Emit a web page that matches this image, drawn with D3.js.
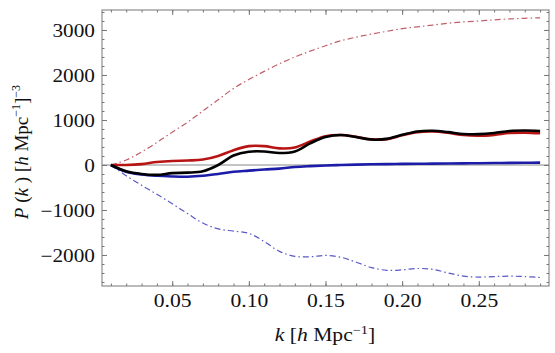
<!DOCTYPE html>
<html lang="en">
<head>
<meta charset="utf-8">
<title>P(k) residuals</title>
<script src="https://cdn.jsdelivr.net/npm/d3@7"></script>
<style>
  body { margin: 0; background: #fff; }
  svg text { font-family: "Liberation Serif", "DejaVu Serif", serif; fill: #111; }
</style>
</head>
<body>
<svg id="chart" width="555" height="353"></svg>
<script>
// k values in h/Mpc
const kValues = [0.01,0.02,0.03,0.04,0.05,0.06,0.07,0.08,0.09,0.10,0.11,0.12,0.13,0.14,0.15,
                 0.16,0.17,0.18,0.19,0.20,0.21,0.22,0.23,0.24,0.25,0.26,0.27,0.28,0.29]

const redDashDot = [0,110,290,500,730,950,1200,1450,1700,1900,2080,2250,2400,2530,2650,
                    2760,2840,2910,2970,3030,3070,3110,3150,3180,3200,3225,3245,3260,3270]
const blueDashDot = [0,-240,-450,-650,-860,-1080,-1290,-1420,-1470,-1520,-1700,-1920,-2030,-2040,-2010,
                     -2050,-2160,-2280,-2340,-2330,-2300,-2320,-2400,-2470,-2490,-2480,-2470,-2480,-2500]
const redThick = [0,0,20,65,90,100,120,200,330,420,420,370,390,520,640,
                  665,625,570,575,660,730,745,715,665,650,670,710,720,705]
const blackThick = [0,-140,-200,-220,-180,-170,-140,0,210,295,300,265,300,480,620,
                    665,620,565,580,670,745,760,730,690,685,710,755,765,755]
const blueThick = [0,-150,-210,-240,-255,-260,-240,-200,-150,-125,-100,-80,-45,-25,-10,
                   0,8,15,20,24,27,30,33,36,40,43,46,49,52]

const xMajor = [0.05, 0.10, 0.15, 0.20, 0.25]
const xMinor = d3.range(1, 30).map(i => i / 100)
const yMajor = [-2000, -1000, 0, 1000, 2000, 3000]
const yMinor = d3.range(-2600, 3401, 200)

const plotLeft = 102, plotRight = 549, plotTop = 10, plotBottom = 286

const x = d3.scaleLinear().domain([0.0042, 0.2958]).range([plotLeft, plotRight])
const y = d3.scaleLinear().domain([-2689, 3444]).range([plotBottom, plotTop])

const svg = d3.select("#chart")

const series = [
    { values: redDashDot, color: "#c0606a", width: 1.2, dash: "6,3,1.5,3" },
    { values: blueDashDot, color: "#5858c8", width: 1.2, dash: "6,3,1.5,3" },
    { values: blueThick, color: "#1c1ca8", width: 2.6, dash: null },
    { values: redThick, color: "#b81414", width: 2.6, dash: null },
    { values: blackThick, color: "#000", width: 2.6, dash: null },
]

// zero line
svg.append("line")
    .attr("x1", plotLeft).attr("x2", plotRight)
    .attr("y1", y(0)).attr("y2", y(0))
    .attr("stroke", "#8a8a8a")
    .attr("stroke-width", 1.2)

const line = d3.line()
    .x((d, i) => x(kValues[i]))
    .y(d => y(d))
    .curve(d3.curveCatmullRom.alpha(0.5))

svg.append("g")
    .selectAll("path")
    .data(series)
    .join("path")
    .attr("d", d => line(d.values))
    .attr("fill", "none")
    .attr("stroke", d => d.color)
    .attr("stroke-width", d => d.width)
    .attr("stroke-dasharray", d => d.dash)
    .attr("stroke-linejoin", "round")

// frame
svg.append("rect")
    .attr("x", plotLeft).attr("y", plotTop)
    .attr("width", plotRight - plotLeft).attr("height", plotBottom - plotTop)
    .attr("fill", "none")
    .attr("stroke", "#777")
    .attr("stroke-width", 1)

const styleAxis = g => {
    g.select(".domain").remove()
    g.selectAll(".tick line").attr("stroke", "#777")
}

// minor ticks on all sides
const minorAxes = [
    [d3.axisBottom(x).tickValues(xMinor), `translate(0,${plotBottom})`],
    [d3.axisTop(x).tickValues(xMinor), `translate(0,${plotTop})`],
    [d3.axisLeft(y).tickValues(yMinor), `translate(${plotLeft},0)`],
    [d3.axisRight(y).tickValues(yMinor), `translate(${plotRight},0)`],
]
minorAxes.forEach(([axis, tr]) => {
    svg.append("g")
        .attr("transform", tr)
        .call(axis.tickSize(-2.5).tickFormat(""))
        .call(styleAxis)
})

// major ticks
svg.append("g")
    .attr("transform", `translate(0,${plotTop})`)
    .call(d3.axisTop(x).tickValues(xMajor).tickSize(-5).tickFormat(""))
    .call(styleAxis)
svg.append("g")
    .attr("transform", `translate(${plotRight},0)`)
    .call(d3.axisRight(y).tickValues(yMajor).tickSize(-5).tickFormat(""))
    .call(styleAxis)

svg.append("g")
    .attr("transform", `translate(0,${plotBottom})`)
    .call(d3.axisBottom(x).tickValues(xMajor).tickSize(-5).tickFormat(d3.format(".2f")))
    .call(styleAxis)
    .call(g => g.selectAll(".tick text")
        .attr("y", 21)
        .attr("dy", null)
        .attr("fill", "#111")
        .attr("font-size", 18)
        .attr("font-family", "Liberation Serif")
        .attr("transform", "scale(1.2,1)"))

svg.append("g")
    .attr("transform", `translate(${plotLeft},0)`)
    .call(d3.axisLeft(y).tickValues(yMajor).tickSize(-5)
        .tickFormat(d => d < 0 ? "\u2212" + Math.abs(d) : d))
    .call(styleAxis)
    .call(g => g.selectAll(".tick text")
        .attr("x", -6)
        .attr("dy", "0.34em")
        .attr("fill", "#111")
        .attr("font-size", 18)
        .attr("font-family", "Liberation Serif")
        .attr("transform", "scale(1.18,1)"))

// x label
const xl = svg.append("text")
    .attr("transform", "translate(325,341) scale(1.2,1)")
    .attr("text-anchor", "middle")
    .attr("font-size", 18)
xl.append("tspan").attr("font-style", "italic").text("k")
xl.append("tspan").text(" [")
xl.append("tspan").attr("font-style", "italic").text("h")
xl.append("tspan").text(" Mpc")
xl.append("tspan").attr("font-size", 12).attr("dy", -7).text("\u22121")
xl.append("tspan").attr("dy", 7).text("]")

// y label
const yl = svg.append("text")
    .attr("transform", "translate(28,152) rotate(-90)")
    .attr("text-anchor", "middle")
    .attr("font-size", 19)
yl.append("tspan").attr("font-style", "italic").text("P")
yl.append("tspan").text(" (")
yl.append("tspan").attr("font-style", "italic").text("k")
yl.append("tspan").text(" ) [")
yl.append("tspan").attr("font-style", "italic").text("h")
yl.append("tspan").text("  Mpc")
yl.append("tspan").attr("font-size", 12).attr("dy", -8).text("\u22121")
yl.append("tspan").attr("dy", 8).text("]")
yl.append("tspan").attr("font-size", 12).attr("dy", -8).text("\u22123")
</script>
</body>
</html>
